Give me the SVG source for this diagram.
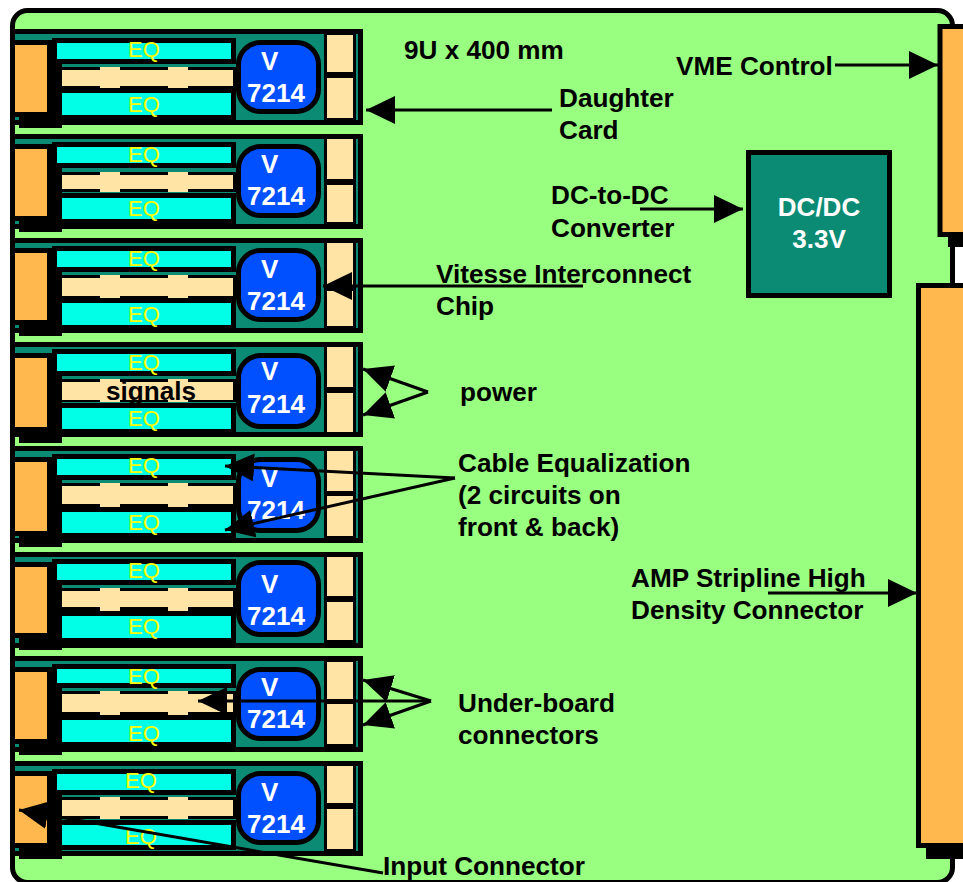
<svg xmlns="http://www.w3.org/2000/svg" width="963" height="882" viewBox="0 0 963 882">
<style>
text{font-family:"Liberation Sans",Arial,sans-serif;font-size:26px}
.l{font-weight:bold;fill:#000;font-size:26.15px}
.w{font-weight:bold;fill:#fff}
.q{fill:#FFFF00;font-size:22px}
.k{fill:#000}
.body{fill:#0B8B74;stroke:#000;stroke-width:5}
.org{fill:#FFB84D;stroke:#000;stroke-width:5}
.cy{fill:#00FFE6;stroke:#000;stroke-width:5}
.cr{fill:#FFE4A6}
.chip{fill:#0050FF;stroke:#000;stroke-width:5}
.a{stroke:#000;stroke-width:3;fill:none;marker-end:url(#ah)}
</style>
<defs>
<marker id="ah" markerUnits="userSpaceOnUse" markerWidth="30" markerHeight="30" refX="29" refY="14" orient="auto"><path d="M0 0L29 14L0 28Z" fill="#000"/></marker>
</defs>
<g id="board"><rect x="12.5" y="10.5" width="940" height="872" rx="15" fill="#99FF80" stroke="#000" stroke-width="5"/></g>

<g id="card1">
<rect class="body" x="12.5" y="31.5" width="348" height="91"/>
<rect class="k" x="19" y="115" width="43" height="13"/><rect class="k" x="52" y="60" width="10" height="68"/>
<rect class="org" x="12.5" y="42.5" width="37" height="72"/>
<rect class="k" x="62" y="67" width="174" height="21"/><rect class="cr" x="62" y="70" width="171" height="16"/><rect class="cr" x="100" y="67" width="20" height="21"/><rect class="cr" x="168" y="67" width="20" height="21"/>
<rect class="cy" x="54.5" y="40.5" width="179" height="21"/><rect class="cy" x="59.5" y="90.5" width="174" height="27"/>
<text class="q" x="128" y="57">EQ</text><text class="q" x="128" y="112">EQ</text>
<rect class="chip" x="238.5" y="42.5" width="80" height="69" rx="22"/>
<text class="w" x="261" y="70">V</text><text class="w" x="247" y="102">7214</text>
<rect class="k" x="324" y="34" width="32" height="86"/><rect class="cr" x="327" y="35" width="26" height="37"/><rect class="cr" x="327" y="78" width="26" height="40"/>
</g>

<g id="card2">
<rect class="body" x="12.5" y="136.5" width="348" height="90"/>
<rect class="k" x="19" y="219" width="43" height="13"/><rect class="k" x="52" y="164" width="10" height="68"/>
<rect class="org" x="12.5" y="146.5" width="37" height="72"/>
<rect class="k" x="62" y="172" width="174" height="20"/><rect class="cr" x="62" y="175" width="171" height="14"/><rect class="cr" x="100" y="172" width="20" height="20"/><rect class="cr" x="168" y="172" width="20" height="20"/>
<rect class="cy" x="54.5" y="144.5" width="179" height="21"/><rect class="cy" x="59.5" y="195.5" width="174" height="26"/>
<text class="q" x="128" y="162">EQ</text><text class="q" x="128" y="216">EQ</text>
<rect class="chip" x="238.5" y="146.5" width="80" height="69" rx="22"/>
<text class="w" x="261" y="173">V</text><text class="w" x="247" y="205">7214</text>
<rect class="k" x="324" y="139" width="32" height="86"/><rect class="cr" x="327" y="139" width="26" height="40"/><rect class="cr" x="327" y="185" width="26" height="37"/>
</g>

<g id="card3">
<rect class="body" x="12.5" y="240.5" width="348" height="90"/>
<rect class="k" x="19" y="323" width="43" height="13"/><rect class="k" x="52" y="268" width="10" height="68"/>
<rect class="org" x="12.5" y="250.5" width="37" height="72"/>
<rect class="k" x="62" y="275" width="174" height="23"/><rect class="cr" x="62" y="278" width="171" height="18"/><rect class="cr" x="100" y="275" width="20" height="23"/><rect class="cr" x="168" y="275" width="20" height="23"/>
<rect class="cy" x="54.5" y="248.5" width="179" height="21"/><rect class="cy" x="59.5" y="300.5" width="174" height="27"/>
<text class="q" x="128" y="266">EQ</text><text class="q" x="128" y="322">EQ</text>
<rect class="chip" x="238.5" y="250.5" width="80" height="69" rx="22"/>
<text class="w" x="261" y="278">V</text><text class="w" x="247" y="310">7214</text>
<rect class="k" x="324" y="243" width="32" height="86"/><rect class="cr" x="327" y="243" width="26" height="42"/><rect class="cr" x="327" y="291" width="26" height="35"/>
</g>

<g id="card4">
<rect class="body" x="12.5" y="344.5" width="348" height="90"/>
<rect class="k" x="19" y="427" width="43" height="16"/><rect class="k" x="52" y="373" width="10" height="70"/>
<rect class="org" x="12.5" y="355.5" width="37" height="74"/>
<rect class="k" x="62" y="379" width="174" height="23"/><rect class="cr" x="62" y="382" width="171" height="18"/><rect class="cr" x="100" y="379" width="20" height="23"/><rect class="cr" x="168" y="379" width="20" height="23"/>
<rect class="cy" x="54.5" y="351.5" width="179" height="22"/><rect class="cy" x="59.5" y="405.5" width="174" height="26"/>
<text class="l" x="106" y="400">signals</text>
<text class="q" x="128" y="370">EQ</text><text class="q" x="128" y="426">EQ</text>
<rect class="chip" x="238.5" y="355.5" width="80" height="71" rx="22"/>
<text class="w" x="261" y="380">V</text><text class="w" x="247" y="413">7214</text>
<rect class="k" x="324" y="347" width="32" height="88"/><rect class="cr" x="327" y="347" width="26" height="40"/><rect class="cr" x="327" y="393" width="26" height="39"/>
</g>

<g id="card5">
<rect class="body" x="12.5" y="448.5" width="348" height="92"/>
<rect class="k" x="19" y="531" width="43" height="16"/><rect class="k" x="52" y="477" width="10" height="70"/>
<rect class="org" x="12.5" y="459.5" width="37" height="74"/>
<rect class="k" x="62" y="483" width="174" height="24"/><rect class="cr" x="62" y="486" width="171" height="18"/><rect class="cr" x="100" y="483" width="20" height="24"/><rect class="cr" x="168" y="483" width="20" height="24"/>
<rect class="cy" x="54.5" y="456.5" width="179" height="21"/><rect class="cy" x="59.5" y="509.5" width="174" height="26"/>
<text class="q" x="128" y="473">EQ</text><text class="q" x="128" y="530">EQ</text>
<rect class="chip" x="238.5" y="459.5" width="80" height="71" rx="22"/>
<text class="w" x="261" y="487">V</text><text class="w" x="247" y="519">7214</text>
<rect class="k" x="324" y="451" width="32" height="87"/><rect class="cr" x="327" y="451" width="26" height="40"/><rect class="cr" x="327" y="496" width="26" height="40"/>
</g>

<g id="card6">
<rect class="body" x="12.5" y="554.5" width="348" height="91"/>
<rect class="k" x="19" y="634" width="43" height="16"/><rect class="k" x="52" y="582" width="10" height="68"/>
<rect class="org" x="12.5" y="564.5" width="37" height="71"/>
<rect class="k" x="62" y="588" width="174" height="23"/><rect class="cr" x="62" y="591" width="171" height="16"/><rect class="cr" x="100" y="588" width="20" height="23"/><rect class="cr" x="168" y="588" width="20" height="23"/>
<rect class="cy" x="54.5" y="561.5" width="179" height="21"/><rect class="cy" x="59.5" y="613.5" width="174" height="27"/>
<text class="q" x="128" y="578">EQ</text><text class="q" x="128" y="634">EQ</text>
<rect class="chip" x="238.5" y="562.5" width="80" height="72" rx="22"/>
<text class="w" x="261" y="593">V</text><text class="w" x="247" y="625">7214</text>
<rect class="k" x="324" y="557" width="32" height="86"/><rect class="cr" x="327" y="557" width="26" height="39"/><rect class="cr" x="327" y="602" width="26" height="38"/>
</g>

<g id="card7">
<rect class="body" x="12.5" y="658.5" width="348" height="91"/>
<rect class="k" x="19" y="741" width="43" height="14"/><rect class="k" x="52" y="685" width="10" height="70"/>
<rect class="org" x="12.5" y="669.5" width="37" height="72"/>
<rect class="k" x="62" y="691" width="174" height="24"/><rect class="cr" x="62" y="694" width="171" height="18"/><rect class="cr" x="100" y="691" width="20" height="24"/><rect class="cr" x="168" y="691" width="20" height="24"/>
<rect class="cy" x="54.5" y="666.5" width="179" height="19"/><rect class="cy" x="59.5" y="717.5" width="174" height="27"/>
<text class="q" x="128" y="684">EQ</text><text class="q" x="128" y="741">EQ</text>
<rect class="chip" x="238.5" y="669.5" width="80" height="69" rx="22"/>
<text class="w" x="261" y="696">V</text><text class="w" x="247" y="728">7214</text>
<rect class="k" x="324" y="661" width="32" height="86"/><rect class="cr" x="327" y="662" width="26" height="37"/><rect class="cr" x="327" y="704" width="26" height="40"/>
</g>

<g id="card8">
<rect class="body" x="12.5" y="763.5" width="348" height="90"/>
<rect class="k" x="19" y="846" width="43" height="13"/><rect class="k" x="52" y="792" width="10" height="67"/>
<rect class="org" x="12.5" y="773.5" width="37" height="72"/>
<rect class="k" x="62" y="797" width="174" height="22"/><rect class="cr" x="62" y="800" width="171" height="16"/><rect class="cr" x="100" y="797" width="20" height="22"/><rect class="cr" x="168" y="797" width="20" height="22"/>
<rect class="cy" x="54.5" y="771.5" width="179" height="21"/><rect class="cy" x="59.5" y="822.5" width="174" height="25"/>
<text class="q" x="125" y="788">EQ</text><text class="q" x="125" y="844">EQ</text>
<rect class="chip" x="238.5" y="773.5" width="80" height="69" rx="22"/>
<text class="w" x="261" y="801">V</text><text class="w" x="247" y="833">7214</text>
<rect class="k" x="324" y="766" width="32" height="86"/><rect class="cr" x="327" y="766" width="26" height="37"/><rect class="cr" x="327" y="809" width="26" height="40"/>
</g>

<g id="vme-connector">
<rect class="k" x="948" y="235" width="15" height="12"/>
<rect class="org" x="940" y="26.5" width="40" height="208"/>
</g>
<g id="amp-connector">
<rect class="k" x="926" y="846" width="37" height="13"/>
<rect class="org" x="918.5" y="285.5" width="60" height="560"/>
</g>
<g id="dcdc">
<rect x="748.5" y="152.5" width="141" height="143" fill="#0B8B74" stroke="#000" stroke-width="5"/>
<text class="w" x="819" y="216" text-anchor="middle">DC/DC</text>
<text class="w" x="819" y="248" text-anchor="middle">3.3V</text>
</g>

<g id="labels">
<text class="l" x="404" y="59">9U x 400 mm</text>
<text class="l" x="676" y="75">VME Control</text>
<text class="l" x="559" y="107">Daughter</text>
<text class="l" x="559" y="139">Card</text>
<text class="l" x="551" y="204">DC-to-DC</text>
<text class="l" x="551" y="237">Converter</text>
<text class="l" x="436" y="283">Vitesse Interconnect</text>
<text class="l" x="436" y="315">Chip</text>
<text class="l" x="460" y="401">power</text>
<text class="l" x="458" y="472">Cable Equalization</text>
<text class="l" x="458" y="504">(2 circuits on</text>
<text class="l" x="458" y="536">front &amp; back)</text>
<text class="l" x="631" y="587">AMP Stripline High</text>
<text class="l" x="631" y="619">Density Connector</text>
<text class="l" x="458" y="712">Under-board</text>
<text class="l" x="458" y="744">connectors</text>
<text class="l" x="383" y="875">Input Connector</text>
</g>

<g id="connectors">
<path class="a" d="M835 65H938"/>
<path class="a" d="M552 110H366"/>
<path class="a" d="M640 209H743"/>
<path class="a" d="M583 286H323"/>
<path class="a" d="M428 392L363 369"/>
<path class="a" d="M428 392L363 415"/>
<path class="a" d="M455 478L225 466"/>
<path class="a" d="M455 478L225 530"/>
<path class="a" d="M768 593H917"/>
<path class="a" d="M431 701L363 680"/>
<path class="a" d="M431 701L363 725"/>
<path class="a" d="M431 701H198"/>
<path class="a" d="M383 873L19 810"/>
</g>
</svg>
